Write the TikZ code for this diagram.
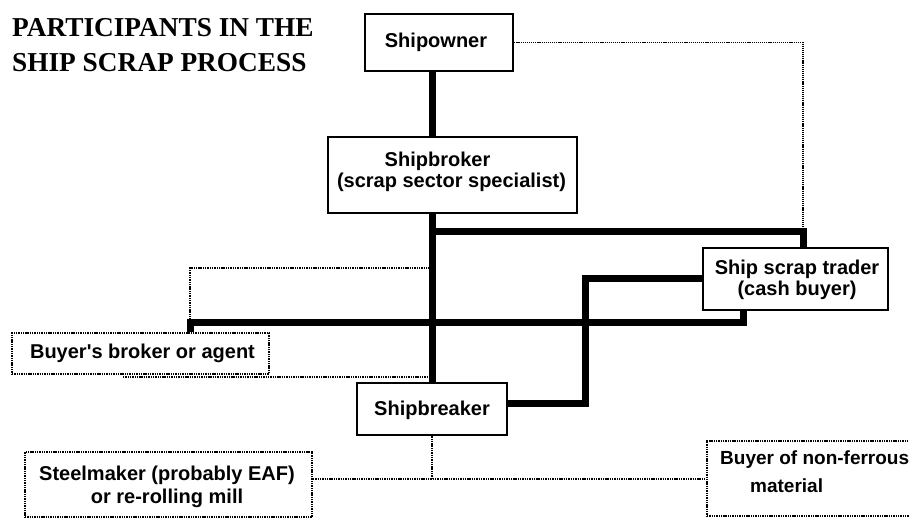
\documentclass[tikz,border=0pt]{standalone}
\usepackage{fontspec}
\setmainfont{Liberation Serif}
\newfontfamily\boxfont{Liberation Sans}
\begin{document}
\begin{tikzpicture}[x=1pt,y=-1pt,
  solidbox/.style={draw, line width=2.5pt, rectangle, inner sep=0pt},
  dotbox/.style={draw, line width=2pt, dash pattern=on 1.4pt off 0.9pt, rectangle, inner sep=0pt},
  thickline/.style={line width=7pt},
  dotline/.style={line width=2pt, dash pattern=on 1.4pt off 0.9pt},
  thindot/.style={line width=1.5pt, dash pattern=on 1.2pt off 0.9pt},
  txt/.style={font=\boxfont\bfseries\fontsize{20}{21}\selectfont, inner sep=0pt},
  titletxt/.style={font=\bfseries\fontsize{27.3}{35}\selectfont, inner sep=0pt, align=left}]
\useasboundingbox (0,0) rectangle (909,518);
\clip (0,0) rectangle (909,518);

% title
\node[titletxt, anchor=north west] (title) at (12,18.6) {PARTICIPANTS IN THE\\SHIP SCRAP PROCESS};

% boxes
\node[solidbox, minimum width=148pt, minimum height=57pt] (owner) at (439,42.5) {};
\node[txt, anchor=base] (ownerT) at (436,48) {Shipowner};

\node[solidbox, minimum width=249pt, minimum height=76pt] (broker) at (452.5,175) {};
\node[txt, anchor=north, align=center] (brokerT) at (451.5,151.4) {Shipbroker\hspace*{28pt}\\(scrap sector specialist)};

\node[solidbox, minimum width=185pt, minimum height=62pt] (trader) at (795.5,279) {};
\node[txt, anchor=north, align=center] (traderT) at (797,259.4) {Ship scrap trader\\(cash buyer)};

\node[solidbox, minimum width=150pt, minimum height=52pt] (breaker) at (432,409) {};
\node[txt, anchor=base] (breakerT) at (432,415) {Shipbreaker};

\node[dotbox, minimum width=257pt, minimum height=41pt] (agent) at (140.5,353.5) {};
\node[txt, anchor=base] (agentT) at (142.5,358.3) {Buyer's broker or agent};

\node[dotbox, minimum width=287pt, minimum height=65pt] (steel) at (168.5,484.5) {};
\node[txt, anchor=north, align=center, font=\boxfont\bfseries\fontsize{20}{23}\selectfont] (steelT) at (167,465.4) {Steelmaker (probably EAF)\\or re-rolling mill};

\node[dotbox, minimum width=223pt, minimum height=75pt] (nonfer) at (818.5,478.5) {};
\node[txt, anchor=north west, align=left, font=\boxfont\bfseries\fontsize{19}{27.5}\selectfont] (nonferT) at (720,451) {Buyer of non-ferrous\\\hspace*{30pt}material};

% coordinates
\coordinate (spine) at (432,0);
\coordinate (jt) at (432,232);
\coordinate (ct) at (803,232);
\coordinate (k1) at (585,403);
\coordinate (k2) at (743,322);
\coordinate (k3) at (190,322);
\coordinate (d1) at (190,268);
\coordinate (d2) at (123,377);
\coordinate (d3) at (433,479);

% thick connectors
\draw[thickline] (owner.south -| spine) -- (broker.north -| spine);
\draw[thickline] (broker.south -| spine) -- (breaker.north -| spine);
\draw[thickline] (jt) -- (ct) -- (ct |- trader.north);
\draw[thickline] (trader.west) -| (k1) -- (k1 -| breaker.east);
\draw[thickline] (k2 |- trader.south) -- (k2) -- (k3) -- (k3 |- agent.north);

% dotted connectors
\draw[thindot] (owner.east) -| (ct);
\draw[dotline] (k3) -- (d1) -- (d1 -| spine);
\draw[dotline] (d2) -- (d2 -| spine);
\draw[dotline] (breaker.south) -- (breaker.south |- d3);
\draw[dotline] (steel.east |- d3) -- (nonfer.west |- d3);
\end{tikzpicture}
\end{document}
